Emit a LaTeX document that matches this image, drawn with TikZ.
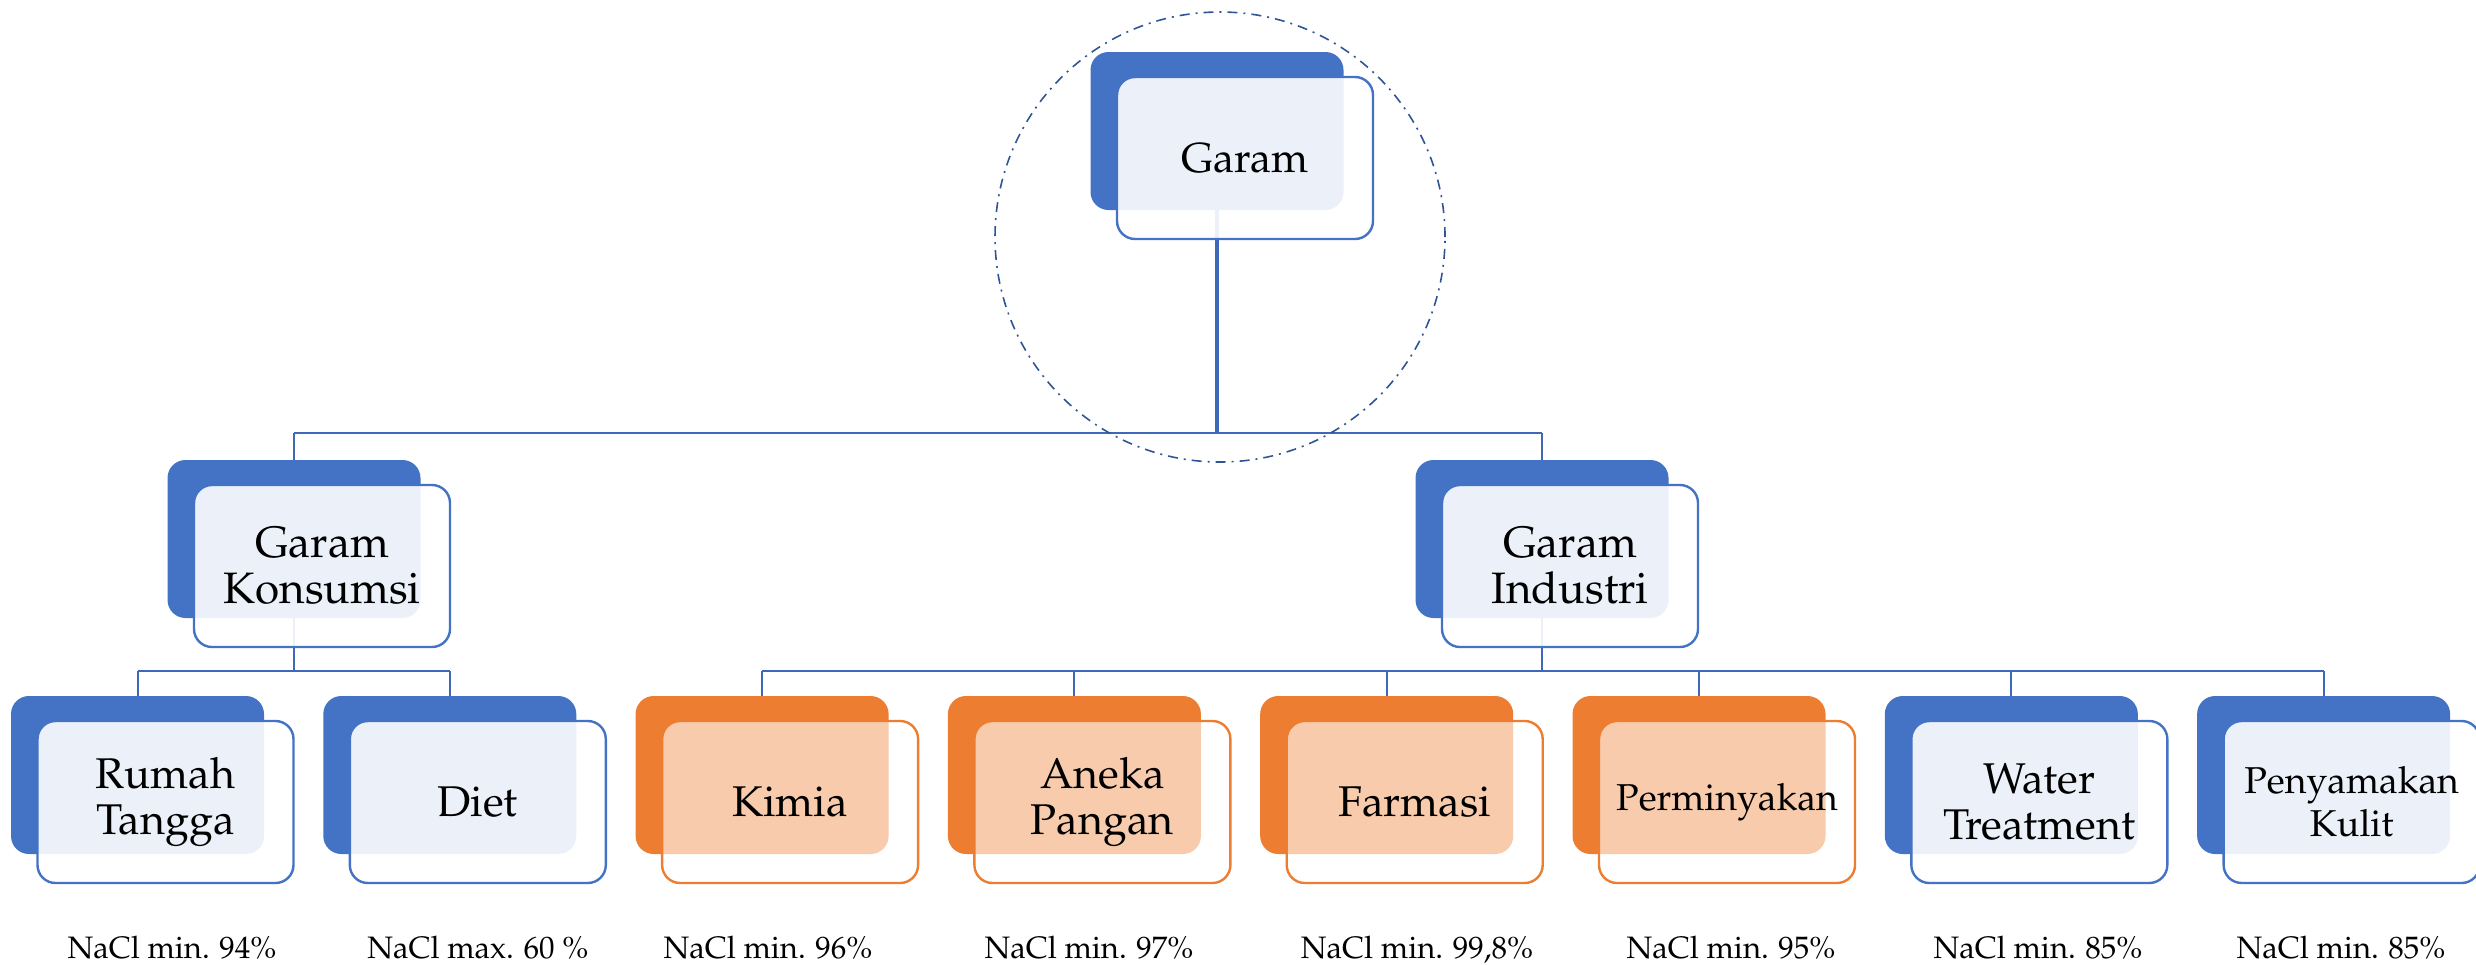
\documentclass[tikz,border=0pt]{standalone}
\usepackage[T1]{fontenc}
\renewcommand\rmdefault{ppl}
\pgfdeclarelayer{bg}
\pgfsetlayers{bg,main}
\definecolor{accblue}{HTML}{4472C4}
\definecolor{accorange}{HTML}{ED7D31}
\definecolor{linecol}{HTML}{4068B8}
\definecolor{circcol}{HTML}{2F5597}
\tikzset{
  backbox/.style={rounded corners=9pt, minimum width=126.5pt, minimum height=79pt, inner sep=0pt},
  backblue/.style={backbox, fill=accblue},
  backorange/.style={backbox, fill=accorange},
  frontbox/.style={rounded corners=9pt, minimum width=128pt, minimum height=81pt, inner sep=0pt, line width=1.2pt, align=center, fill=white},
  frontblue/.style={frontbox, draw=accblue, fill opacity=0.9, text opacity=1},
  frontorange/.style={frontbox, draw=accorange, fill opacity=0.6, text opacity=1},
  toptxt/.style={font=\fontsize{21}{23}\selectfont},
  bigtxt/.style={font=\fontsize{22}{23}\selectfont},
  midtxt/.style={font=\fontsize{21.5}{23}\selectfont},
  smalltxt/.style={font=\fontsize{18.7}{21.5}\selectfont},
  labtxt/.style={font=\fontsize{15.5}{18}\selectfont, inner sep=0pt, anchor=base},
  conn/.style={draw=linecol, line width=1pt},
  thickconn/.style={draw=linecol, line width=2pt},
}
\begin{document}
\begin{tikzpicture}[x=0.5pt, y=-0.5pt]
\useasboundingbox (0,0) rectangle (2476,964);
% level 1
\node[backblue] (g-b) at (1217,131) {};
\node[frontblue, toptxt] (g) at (1245,158) {Garam};
% level 2
\node[backblue] (k-b) at (294,539) {};
\node[frontblue, bigtxt] (k) at (322,566) {Garam\\Konsumsi};
\node[backblue] (i-b) at (1542,539) {};
\node[frontblue, bigtxt] (i) at (1570,566) {Garam\\Industri};
% level 3
\node[backblue] (r-b) at (137.5,775) {};
\node[frontblue, midtxt] (r) at (165.5,802) {Rumah\\Tangga};
\node[backblue] (d-b) at (449.8,775) {};
\node[frontblue, midtxt] (d) at (477.8,802) {Diet};
\node[backorange] (ki-b) at (762.1,775) {};
\node[frontorange, midtxt] (ki) at (790.1,802) {Kimia};
\node[backorange] (a-b) at (1074.4,775) {};
\node[frontorange, midtxt] (a) at (1102.4,802) {Aneka\\Pangan};
\node[backorange] (f-b) at (1386.7,775) {};
\node[frontorange, midtxt] (f) at (1414.7,802) {Farmasi};
\node[backorange] (p-b) at (1699,775) {};
\node[frontorange, smalltxt] (p) at (1727,802) {Perminyakan};
\node[backblue] (w-b) at (2011.3,775) {};
\node[frontblue, midtxt] (w) at (2039.3,802) {Water\\Treatment};
\node[backblue] (s-b) at (2323.6,775) {};
\node[frontblue, smalltxt] (s) at (2351.6,802) {Penyamakan\\Kulit};
% labels
\node[labtxt] (lr) at (172,958) {NaCl min. 94\%};
\node[labtxt] (ld) at (477.8,958) {NaCl max. 60 \%};
\node[labtxt] (lki) at (768,958) {NaCl min. 96\%};
\node[labtxt] (la) at (1089,958) {NaCl min. 97\%};
\node[labtxt] (lf) at (1417,958) {NaCl min. 99,8\%};
\node[labtxt] (lp) at (1731,958) {NaCl min. 95\%};
\node[labtxt] (lw) at (2038,958) {NaCl min. 85\%};
\node[labtxt] (ls) at (2341,958) {NaCl min. 85\%};
% circle
\node[draw=circcol, circle, minimum size=225pt, inner sep=0pt, line width=0.8pt,
  dash pattern=on 5pt off 3pt on 1pt off 3pt] (circ) at (1220,237) {};
% connectors
\coordinate (bus1) at (0,433);
\coordinate (bus2) at (0,671);
\begin{pgfonlayer}{bg}
\draw[thickconn] (g-b.center) -- (g-b.center |- bus1);
\draw[conn] (k-b.center |- bus1) -- (i-b.center |- bus1);
\draw[conn] (k-b.center |- bus1) -- (k-b.center);
\draw[conn] (i-b.center |- bus1) -- (i-b.center);
\draw[conn] (k-b.center) -- (k-b.center |- bus2);
\draw[conn] (r-b.center |- bus2) -- (d-b.center |- bus2);
\draw[conn] (i-b.center) -- (i-b.center |- bus2);
\draw[conn] (ki-b.center |- bus2) -- (s-b.center |- bus2);
\foreach \n in {r,d,ki,a,f,p,w,s}{
  \draw[conn] (\n-b.center |- bus2) -- (\n-b.center);
}
\end{pgfonlayer}
\end{tikzpicture}
\end{document}
